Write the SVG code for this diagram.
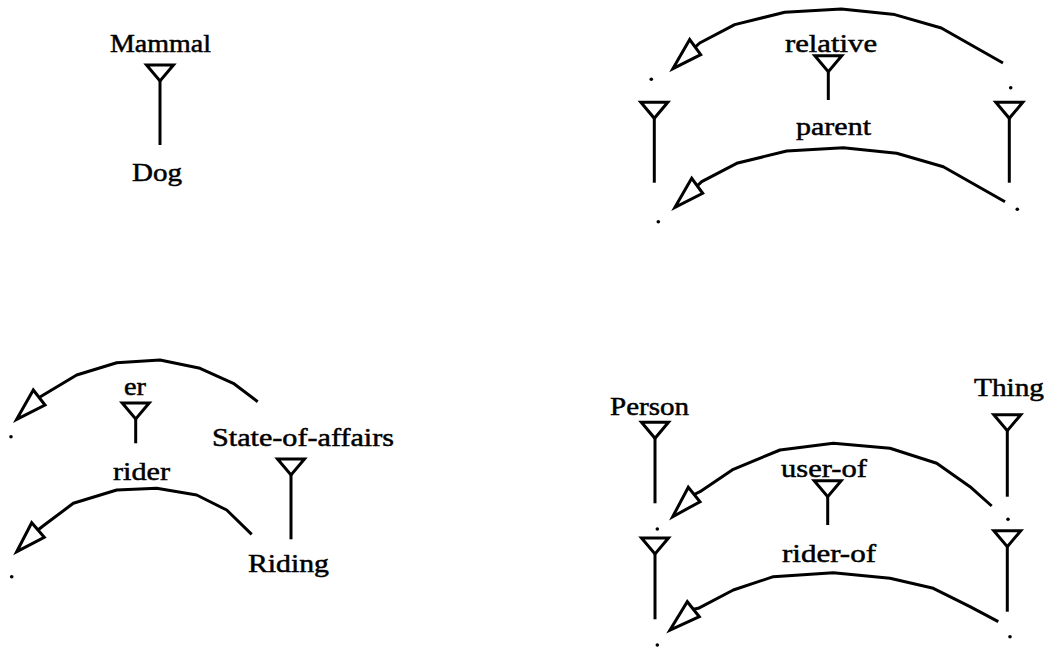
<svg xmlns="http://www.w3.org/2000/svg" xmlns:xlink="http://www.w3.org/1999/xlink" width="1045" height="648" viewBox="0 0 1045 648">
<style>
text{font-family:"Liberation Serif","Times New Roman",serif;font-size:26px;fill:#000;stroke:#000;stroke-width:0.5}
.ln{fill:none;stroke:#000;stroke-width:3;stroke-linejoin:round;stroke-linecap:butt}
.ah{fill:#fff;stroke:#000;stroke-width:3;stroke-linejoin:miter}
.tri{fill:#fff;stroke:#000;stroke-width:3;stroke-linejoin:miter}
.dot{fill:#000}
</style>
<defs>
<path id="tri" class="tri" d="M-13.5,-16 L13.5,-16 L0,0 Z"/>
</defs>
<rect width="1045" height="648" fill="#fff"/>
<g id="connectors">
<g id="isa-dog-mammal"><line class="ln" x1="160" y1="81" x2="160" y2="145"/><use xlink:href="#tri" href="#tri" x="160" y="81"/></g>
<g id="isa-parent-relative"><line class="ln" x1="828.3" y1="71.7" x2="828.3" y2="100"/><use xlink:href="#tri" href="#tri" x="828.3" y="71.7"/></g>
<g id="isa-left-rel"><line class="ln" x1="654.3" y1="118.3" x2="654.3" y2="182.7"/><use xlink:href="#tri" href="#tri" x="654.3" y="118.3"/></g>
<g id="isa-right-rel"><line class="ln" x1="1009.3" y1="118.3" x2="1009.3" y2="182.7"/><use xlink:href="#tri" href="#tri" x="1009.3" y="118.3"/></g>
<g id="isa-rider-er"><line class="ln" x1="135.7" y1="419" x2="135.7" y2="443.3"/><use xlink:href="#tri" href="#tri" x="135.7" y="419"/></g>
<g id="isa-riding-soa"><line class="ln" x1="291" y1="475" x2="291" y2="539.3"/><use xlink:href="#tri" href="#tri" x="291" y="475"/></g>
<g id="isa-person"><line class="ln" x1="655" y1="438.3" x2="655" y2="503.3"/><use xlink:href="#tri" href="#tri" x="655" y="438.3"/></g>
<g id="isa-thing"><line class="ln" x1="1007.3" y1="430.7" x2="1007.3" y2="496.7"/><use xlink:href="#tri" href="#tri" x="1007.3" y="430.7"/></g>
<g id="isa-riderof-userof"><line class="ln" x1="827.7" y1="496.7" x2="827.7" y2="525"/><use xlink:href="#tri" href="#tri" x="827.7" y="496.7"/></g>
<g id="isa-left-mid"><line class="ln" x1="655" y1="554" x2="655" y2="619.3"/><use xlink:href="#tri" href="#tri" x="655" y="554"/></g>
<g id="isa-right-mid"><line class="ln" x1="1007.3" y1="546.7" x2="1007.3" y2="611.7"/><use xlink:href="#tri" href="#tri" x="1007.3" y="546.7"/></g>
<g id="arc-relative"><path class="ln" d="M1003,63 L941.3,28 L894.7,14.6 L841.3,9 L784.7,12.3 L734.7,24.6 L699.7,43 L695.2,47.1"/><polygon class="ah" points="673,68.6 689.7,39.6 700.7,54.6"/></g>
<g id="arc-parent"><path class="ln" d="M1005,201.7 L943.3,166.7 L896.7,153.3 L843.3,147.7 L786.7,151 L736.7,163.3 L701.7,181.7 L697.2,185.8"/><polygon class="ah" points="675,207.3 691.7,178.3 702.7,193.3"/></g>
<g id="arc-er"><path class="ln" d="M257.7,401.7 L233.3,383.3 L200,368.3 L160,360 L116.7,362.7 L76.7,375 L43.3,395 L39.2,397.5"/><polygon class="ah" points="16.7,419.3 33.3,390 45,405"/></g>
<g id="arc-rider"><path class="ln" d="M251.7,534.3 L226.7,510 L196.7,495 L156.7,488.3 L116.7,490 L73.3,503.3 L43,526 L38,530"/><polygon class="ah" points="16.7,551.7 31.7,522.7 44.3,537.3"/></g>
<g id="arc-user-of"><path class="ln" d="M991.7,506 L970,486.7 L936.7,463.3 L890,448.3 L833.3,443.3 L780,450 L733.3,469.3 L700,491.7 L694.2,494.5"/><polygon class="ah" points="672.7,516.7 688.3,487.3 700,501.7"/></g>
<g id="arc-rider-of"><path class="ln" d="M998.3,621.7 L970,606.7 L933.3,588.3 L890,578.3 L833.3,572.7 L773.3,576.7 L733.3,590 L698.3,608.3 L693.3,609.2"/><polygon class="ah" points="670,630 687.3,601.7 699.3,616.7"/></g>
</g>
<g id="node-mammal"><text x="110" y="52" textLength="101" lengthAdjust="spacingAndGlyphs">Mammal</text></g>
<g id="node-dog"><text x="132" y="181" textLength="50" lengthAdjust="spacingAndGlyphs">Dog</text></g>
<g id="node-relative"><text x="785" y="52" textLength="92" lengthAdjust="spacingAndGlyphs">relative</text></g>
<g id="node-parent"><text x="796" y="135" textLength="75" lengthAdjust="spacingAndGlyphs">parent</text></g>
<g id="node-er"><text x="124" y="395" textLength="22" lengthAdjust="spacingAndGlyphs">er</text></g>
<g id="node-rider"><text x="113" y="480" textLength="57" lengthAdjust="spacingAndGlyphs">rider</text></g>
<g id="node-state-of-affairs"><text x="212" y="446" textLength="182" lengthAdjust="spacingAndGlyphs">State-of-affairs</text></g>
<g id="node-riding"><text x="248" y="572" textLength="81" lengthAdjust="spacingAndGlyphs">Riding</text></g>
<g id="node-person"><text x="610" y="415" textLength="79" lengthAdjust="spacingAndGlyphs">Person</text></g>
<g id="node-thing"><text x="974" y="396" textLength="70" lengthAdjust="spacingAndGlyphs">Thing</text></g>
<g id="node-user-of"><text x="781" y="477" textLength="86" lengthAdjust="spacingAndGlyphs">user-of</text></g>
<g id="node-rider-of"><text x="782" y="562" textLength="94" lengthAdjust="spacingAndGlyphs">rider-of</text></g>
<g id="node-dot-1"><circle class="dot" cx="651.3" cy="79.3" r="1.8"/></g>
<g id="node-dot-2"><circle class="dot" cx="1010.7" cy="87.7" r="1.8"/></g>
<g id="node-dot-3"><circle class="dot" cx="658.3" cy="221.7" r="1.8"/></g>
<g id="node-dot-4"><circle class="dot" cx="1017.3" cy="209.3" r="1.8"/></g>
<g id="node-dot-5"><circle class="dot" cx="11" cy="436.7" r="1.8"/></g>
<g id="node-dot-6"><circle class="dot" cx="11.7" cy="576.7" r="1.8"/></g>
<g id="node-dot-7"><circle class="dot" cx="657.3" cy="529" r="1.8"/></g>
<g id="node-dot-8"><circle class="dot" cx="1008" cy="519.3" r="1.8"/></g>
<g id="node-dot-9"><circle class="dot" cx="657.3" cy="645" r="1.8"/></g>
<g id="node-dot-10"><circle class="dot" cx="1010" cy="636.7" r="1.8"/></g>
</svg>
